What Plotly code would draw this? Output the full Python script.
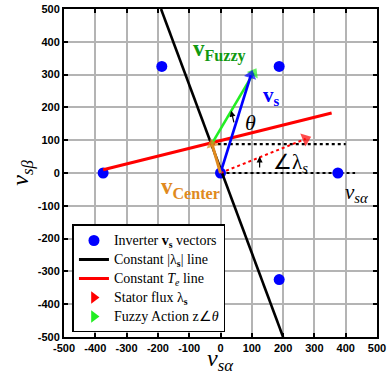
import plotly.graph_objects as go

# ---- data ----
inv_x = [-375, -187.5, 187.5, 375, 187.5, -187.5, 0]
inv_y = [0, 325, 325, 0, -325, -325, 0]

lam_line_x = [-190, 200]
lam_line_y = [500, -500]

te_line_x = [-375, 355]
te_line_y = [10, 183]

vs_x = [0, 97]
vs_y = [0, 298]

fuzzy_x = [-28, 106]
fuzzy_y = [89, 305]

center_x = [0, -27]
center_y = [0, 88]

flux_x = [0, 272]
flux_y = [0, 104]

dot0_x = [0, 430]
dot0_y = [0, 0]
dot1_x = [-28, 400]
dot1_y = [88, 88]

tick_vals = [-500, -400, -300, -200, -100, 0, 100, 200, 300, 400, 500]
tick_text = [str(v) for v in tick_vals]

SERIF = "Liberation Serif"
fig = go.Figure()

def arrow_trace(xs, ys, color, width, head, dash="solid"):
    fig.add_trace(go.Scatter(
        x=xs, y=ys, mode="lines+markers", showlegend=False, hoverinfo="skip",
        line=dict(color=color, width=width, dash=dash),
        marker=dict(symbol="triangle-up", size=[0, head], angleref="previous",
                    color=color, line=dict(width=0))))

# lines
fig.add_trace(go.Scatter(x=dot0_x, y=dot0_y, mode="lines", showlegend=False,
                         line=dict(color="black", width=2.2, dash="dot")))
fig.add_trace(go.Scatter(x=dot1_x, y=dot1_y, mode="lines", showlegend=False,
                         line=dict(color="black", width=2.2, dash="dot")))
fig.add_trace(go.Scatter(x=inv_x, y=inv_y, mode="markers", showlegend=False,
                         marker=dict(color="#0000ff", size=11)))
fig.add_trace(go.Scatter(x=lam_line_x, y=lam_line_y, mode="lines", showlegend=False,
                         line=dict(color="black", width=2.6)))
fig.add_trace(go.Scatter(x=te_line_x, y=te_line_y, mode="lines", showlegend=False,
                         line=dict(color="#ff0000", width=3)))
arrow_trace(flux_x, flux_y, "#ff0000", 2, 12, dash="dot")
arrow_trace(fuzzy_x, fuzzy_y, "#22ee22", 2.6, 11)
arrow_trace(vs_x, vs_y, "#0000ff", 2.6, 11)
arrow_trace(center_x, center_y, "#e08a1e", 3, 11)

# legend-only entries (empty data)
def lg(t):
    return "<span style='font-size:14px'>" + t + "</span>"

fig.add_trace(go.Scatter(x=[None], y=[None], mode="markers", name=lg("Inverter <b>v</b><sub><b>s</b></sub> vectors"),
                         marker=dict(color="#0000ff", size=11)))
fig.add_trace(go.Scatter(x=[None], y=[None], mode="lines", name=lg("Constant |λ<sub><b>s</b></sub>| line"),
                         line=dict(color="black", width=3)))
fig.add_trace(go.Scatter(x=[None], y=[None], mode="lines", name=lg("Constant <i>T<sub>e</sub></i> line"),
                         line=dict(color="#ff0000", width=3)))
fig.add_trace(go.Scatter(x=[None], y=[None], mode="markers", name=lg("Stator flux λ<sub><b>s</b></sub>"),
                         marker=dict(color="#ff0000", size=11, symbol="triangle-right")))
fig.add_trace(go.Scatter(x=[None], y=[None], mode="markers", name=lg("Fuzzy Action z∠<i>θ</i>"),
                         marker=dict(color="#22ee22", size=11, symbol="triangle-right")))

# small angle arrows
fig.add_annotation(x=34, y=190, ax=44, ay=150, xref="x", yref="y", axref="x", ayref="y",
                   showarrow=True, arrowhead=2, arrowsize=1, arrowwidth=1.2, arrowcolor="black", text="")
fig.add_annotation(x=125, y=50, ax=125, ay=12, xref="x", yref="y", axref="x", ayref="y",
                   showarrow=True, arrowhead=2, arrowsize=1, arrowwidth=1.2, arrowcolor="black", text="")

# text labels
def lab(x, y, text, color, size, xanchor="left"):
    fig.add_annotation(x=x, y=y, xref="x", yref="y", text=text, showarrow=False,
                       font=dict(family=SERIF, size=size, color=color), xanchor=xanchor, yanchor="middle")

lab(-95, 372, "<b>v</b><sub><b>Fuzzy</b></sub>", "#119911", 23)
lab(128, 235, "<b>v</b><sub><b>s</b></sub>", "#0000ff", 21)
lab(96, 155, "<i>θ</i>", "black", 22, xanchor="center")
lab(160, 30, "∠λ<sub><i>s</i></sub>", "black", 21)
lab(-195, -45, "<b>v</b><sub><b>Center</b></sub>", "#e08a1e", 23)
lab(392, -62, "<i>v</i><sub><i>sα</i></sub>", "black", 21)

# axis titles
fig.add_annotation(x=0.5, y=-0.07, xref="paper", yref="paper", text="<i>v</i><sub><i>sα</i></sub>",
                   showarrow=False, font=dict(family=SERIF, size=24, color="black"),
                   xanchor="center", yanchor="middle")
fig.add_annotation(x=-0.135, y=0.5, xref="paper", yref="paper", text="<i>v</i><sub><i>sβ</i></sub>",
                   showarrow=False, font=dict(family=SERIF, size=24, color="black"),
                   xanchor="center", yanchor="middle", textangle=-90)

axis_common = dict(
    tickvals=tick_vals, ticktext=tick_text, showgrid=True, gridcolor="#b4b4b4", gridwidth=1.5,
    zeroline=False, showline=True, linecolor="black", linewidth=2, mirror="ticks",
    ticks="inside", ticklen=4, tickwidth=1.5, tickcolor="black", automargin=False,
    tickfont=dict(family="Liberation Sans", size=11, color="black", weight="bold"),
)
fig.update_xaxes(range=[-500, 500], **axis_common)
fig.update_yaxes(range=[-500, 500], **axis_common)

fig.update_layout(
    width=387, height=376,
    margin=dict(l=64, r=10, t=9, b=39, autoexpand=False),
    plot_bgcolor="white", paper_bgcolor="white",
    showlegend=True,
    legend=dict(x=0.027, y=0.343, xanchor="left", yanchor="top",
                bgcolor="white", bordercolor="black", borderwidth=1.5,
                font=dict(family=SERIF, size=11, color="black"),
                itemwidth=30, tracegroupgap=0,
                traceorder="normal"),
)

fig.write_html("out.html", config={"displayModeBar": False},
               post_script="document.body.style.margin='0';")
